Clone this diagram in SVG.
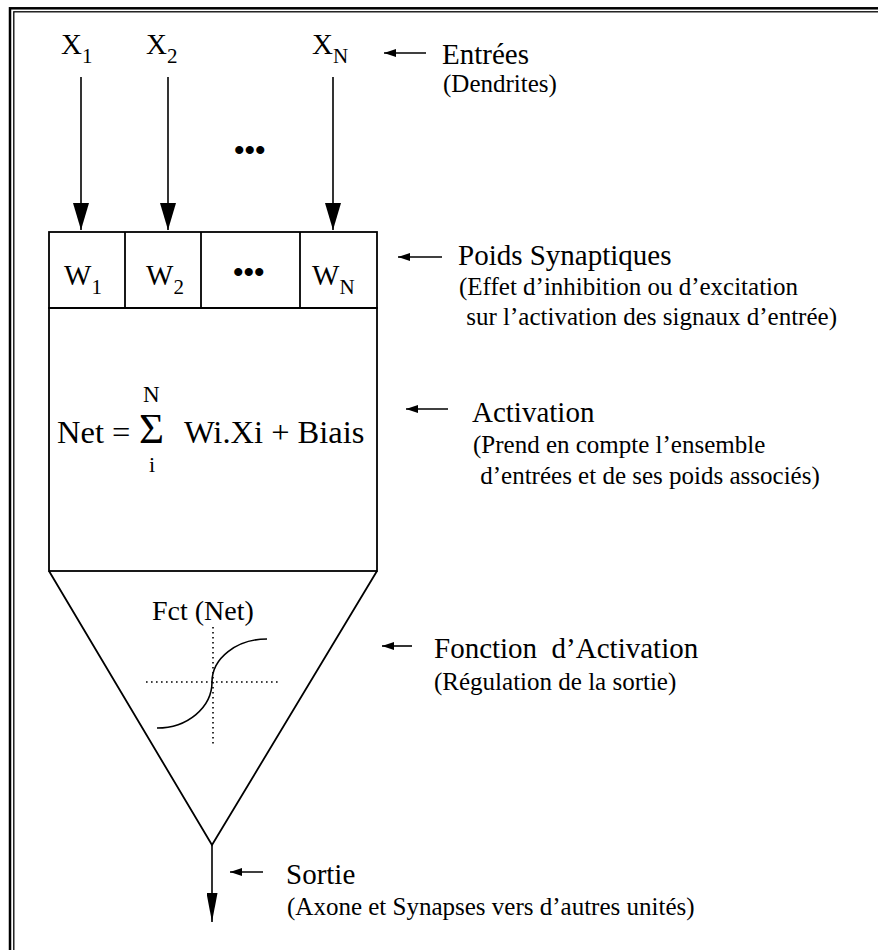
<svg xmlns="http://www.w3.org/2000/svg" width="878" height="950" viewBox="0 0 878 950">
<style>
text{font-family:"Liberation Serif","Times New Roman",serif;fill:#000;white-space:pre}
.lbl{font-size:29px}
.sub{font-size:25px}
.var{font-size:29px}
.idx{font-size:21px}
.dots{font-size:30px;font-weight:bold}
.box{fill:none;stroke:#000;stroke-width:1.8}
.ln{stroke:#000;stroke-width:1.6;fill:none}
.dot{stroke:#000;stroke-width:1.6;fill:none;stroke-dasharray:1.6 3.4}
</style>
<defs>
<marker id="big" viewBox="0 0 27 16" refX="27" refY="8" markerWidth="27" markerHeight="16" markerUnits="userSpaceOnUse" orient="auto"><path d="M0,0 L27,8 L0,16 Z" fill="#000"/></marker>
<marker id="out" viewBox="0 0 29 11" refX="29" refY="5.5" markerWidth="29" markerHeight="11" markerUnits="userSpaceOnUse" orient="auto"><path d="M0,0 L29,5.5 L0,11 Z" fill="#000"/></marker>
<marker id="sm" viewBox="0 0 12 8" refX="12" refY="4" markerWidth="12" markerHeight="8" markerUnits="userSpaceOnUse" orient="auto"><path d="M0,0 L12,4 L0,8 Z" fill="#000"/></marker>
</defs>
<rect width="878" height="950" fill="#fff"/>
<g id="frame">
<rect x="10" y="8.3" width="900" height="1000" fill="none" stroke="#000" stroke-width="2.5"/>
<rect x="13.8" y="11.8" width="900" height="1000" fill="none" stroke="#000" stroke-width="1.3"/>
</g>
<g id="inputs">
<text class="var" x="61" y="54">X<tspan class="idx" dy="9">1</tspan></text>
<text class="var" x="146" y="54">X<tspan class="idx" dy="9">2</tspan></text>
<text class="var" x="312" y="54">X<tspan class="idx" dy="9">N</tspan></text>
<text class="dots" x="234" y="160">•••</text>
</g>
<g id="weights">
<rect class="box" x="49" y="232" width="328" height="76"/>
<line class="box" x1="125" y1="232" x2="125" y2="308"/>
<line class="box" x1="201" y1="232" x2="201" y2="308"/>
<line class="box" x1="300" y1="232" x2="300" y2="308"/>
<text class="var" x="64" y="285">W<tspan class="idx" dy="9">1</tspan></text>
<text class="var" x="146" y="285">W<tspan class="idx" dy="9">2</tspan></text>
<text class="dots" x="233" y="282">•••</text>
<text class="var" x="312" y="285">W<tspan class="idx" dy="9">N</tspan></text>
</g>
<g id="activation">
<rect class="box" x="49" y="308" width="328" height="263"/>
<text x="57" y="443" style="font-size:32.5px">Net = </text>
<text x="139" y="443" style="font-size:43px">Σ</text>
<text x="143" y="402" style="font-size:23px">N</text>
<text x="149" y="472" style="font-size:22px">i</text>
<text x="184" y="443" style="font-size:32.5px">Wi.Xi + Biais</text>
</g>
<g id="function">
<path class="box" d="M49,571 L212,845 L377,571"/>
<text x="152" y="620" style="font-size:28px">Fct (Net)</text>
<line class="dot" x1="213" y1="627" x2="213" y2="746"/>
<line class="dot" x1="146" y1="682" x2="279" y2="682"/>
<path class="ln" d="M157,728 A55,46 0 0 0 212,682 A55,43 0 0 1 267,639"/>
</g>
<g id="connectors">
<line class="ln" x1="81" y1="77" x2="81" y2="230" marker-end="url(#big)"/>
<line class="ln" x1="168" y1="77" x2="168" y2="230" marker-end="url(#big)"/>
<line class="ln" x1="333" y1="77" x2="333" y2="230" marker-end="url(#big)"/>
<line class="ln" x1="212" y1="845" x2="212" y2="922" marker-end="url(#out)"/>
<line class="ln" x1="426" y1="53" x2="384" y2="53" marker-end="url(#sm)"/>
<line class="ln" x1="442" y1="257" x2="398" y2="257" marker-end="url(#sm)"/>
<line class="ln" x1="448" y1="409" x2="406" y2="409" marker-end="url(#sm)"/>
<line class="ln" x1="412" y1="646" x2="382" y2="646" marker-end="url(#sm)"/>
<line class="ln" x1="263" y1="872" x2="230" y2="872" marker-end="url(#sm)"/>
</g>
<g id="labels">
<text class="lbl" x="442" y="64">Entrées</text>
<text class="sub" x="443" y="92">(Dendrites)</text>
<text class="lbl" x="458" y="265">Poids Synaptiques</text>
<text class="sub" x="459" y="295">(Effet d’inhibition ou d’excitation</text>
<text class="sub" x="460" y="325"> sur l’activation des signaux d’entrée)</text>
<text class="lbl" x="472" y="422">Activation</text>
<text class="sub" x="473" y="453">(Prend en compte l’ensemble</text>
<text class="sub" x="474" y="484"> d’entrées et de ses poids associés)</text>
<text class="lbl" x="434" y="658">Fonction  d’Activation</text>
<text class="sub" x="434" y="690">(Régulation de la sortie)</text>
<text class="lbl" x="286" y="884">Sortie</text>
<text class="sub" x="287" y="915">(Axone et Synapses vers d’autres unités)</text>
</g>
</svg>
